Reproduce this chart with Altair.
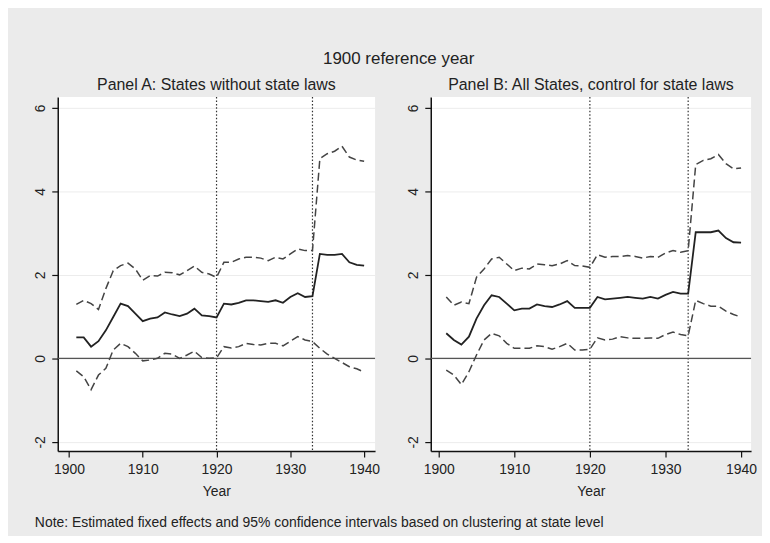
import altair as alt
import pandas as pd

years = [1901, 1902, 1903, 1904, 1905, 1906, 1907, 1908, 1909, 1910,
         1911, 1912, 1913, 1914, 1915, 1916, 1917, 1918, 1919, 1920,
         1921, 1922, 1923, 1924, 1925, 1926, 1927, 1928, 1929, 1930,
         1931, 1932, 1933, 1934, 1935, 1936, 1937, 1938, 1939, 1940]

# Panel A: States without state laws
a_est = [0.50, 0.50, 0.28, 0.41, 0.67, 0.99, 1.31, 1.25, 1.07, 0.89,
         0.95, 0.98, 1.10, 1.05, 1.01, 1.07, 1.19, 1.03, 1.01, 0.98,
         1.31, 1.29, 1.33, 1.39, 1.39, 1.37, 1.35, 1.39, 1.33, 1.47,
         1.56, 1.47, 1.49, 2.50, 2.48, 2.48, 2.50, 2.30, 2.24, 2.22]
a_hi = [1.29, 1.39, 1.31, 1.17, 1.67, 2.10, 2.22, 2.28, 2.14, 1.87,
        1.98, 1.97, 2.06, 2.05, 2.00, 2.10, 2.21, 2.06, 2.02, 1.94,
        2.30, 2.30, 2.38, 2.42, 2.42, 2.40, 2.34, 2.42, 2.38, 2.50,
        2.62, 2.58, 2.58, 4.78, 4.90, 4.96, 5.08, 4.82, 4.75, 4.72]
a_lo = [-0.30, -0.44, -0.75, -0.40, -0.24, 0.20, 0.36, 0.28, 0.12, -0.06,
        -0.04, 0.00, 0.12, 0.10, 0.00, 0.08, 0.17, 0.02, 0.00, 0.01,
        0.28, 0.25, 0.28, 0.36, 0.33, 0.32, 0.36, 0.36, 0.30, 0.41,
        0.52, 0.44, 0.40, 0.24, 0.10, 0.00, -0.10, -0.20, -0.25, -0.33]

# Panel B: All States, control for state laws
b_est = [0.60, 0.44, 0.33, 0.52, 0.95, 1.27, 1.51, 1.47, 1.31, 1.15,
         1.19, 1.19, 1.29, 1.25, 1.23, 1.29, 1.37, 1.21, 1.21, 1.21,
         1.47, 1.41, 1.43, 1.45, 1.47, 1.45, 1.43, 1.47, 1.43, 1.52,
         1.59, 1.55, 1.55, 3.02, 3.02, 3.02, 3.06, 2.88, 2.78, 2.77]
b_hi = [1.47, 1.27, 1.35, 1.31, 1.94, 2.14, 2.38, 2.42, 2.26, 2.10,
        2.16, 2.14, 2.26, 2.24, 2.22, 2.26, 2.34, 2.22, 2.21, 2.18,
        2.48, 2.42, 2.44, 2.44, 2.46, 2.44, 2.40, 2.44, 2.42, 2.52,
        2.58, 2.54, 2.58, 4.64, 4.74, 4.78, 4.88, 4.66, 4.54, 4.56]
b_lo = [-0.28, -0.40, -0.63, -0.32, 0.08, 0.44, 0.60, 0.54, 0.36, 0.24,
        0.24, 0.24, 0.30, 0.28, 0.22, 0.28, 0.36, 0.20, 0.20, 0.22,
        0.49, 0.44, 0.46, 0.52, 0.49, 0.48, 0.48, 0.49, 0.48, 0.57,
        0.63, 0.57, 0.54, 1.39, 1.31, 1.25, 1.25, 1.13, 1.05, 0.99]

event_years = [1920, 1933]
zero_line = [0]
x_ticks = [1900, 1910, 1920, 1930, 1940]
y_ticks = [-2, 0, 2, 4, 6]

FONT = "Liberation Sans"


def panel(title, est, hi, lo, xdom, w):
    df = pd.DataFrame({"year": years, "est": est, "hi": hi, "lo": lo})
    xs = alt.Scale(domain=xdom, nice=False, zero=False)
    ys = alt.Scale(domain=[-2.22, 6.26], nice=False, zero=False)
    xax = alt.Axis(values=x_ticks, format="d", title="Year", grid=False,
                   labelPadding=6, titlePadding=8)
    yax = alt.Axis(values=y_ticks, title=None, grid=True, labelAngle=270,
                   labelAlign="center", labelBaseline="bottom",
                   labelExpr="toString(datum.value)",
                   labelPadding=4, minExtent=45, maxExtent=45)
    base = alt.Chart(df)
    lo_line = base.mark_line(color="#444444", strokeWidth=1.5, strokeDash=[8, 4]).encode(
        x=alt.X("year:Q", scale=xs, axis=xax),
        y=alt.Y("lo:Q", scale=ys, axis=yax))
    hi_line = base.mark_line(color="#444444", strokeWidth=1.5, strokeDash=[8, 4]).encode(
        x=alt.X("year:Q", scale=xs, axis=xax),
        y=alt.Y("hi:Q", scale=ys, axis=yax))
    est_line = base.mark_line(color="#222222", strokeWidth=1.8).encode(
        x=alt.X("year:Q", scale=xs, axis=xax),
        y=alt.Y("est:Q", scale=ys, axis=yax))
    ev = alt.Chart(pd.DataFrame({"year": event_years})).mark_rule(
        color="#333333", strokeWidth=1.2, strokeDash=[1.5, 2]).encode(
        x=alt.X("year:Q", scale=xs, axis=xax))
    zr = alt.Chart(pd.DataFrame({"v": zero_line})).mark_rule(
        color="#555555", strokeWidth=1.3).encode(
        y=alt.Y("v:Q", scale=ys, axis=yax))
    return alt.layer(ev, zr, lo_line, hi_line, est_line).properties(
        width=w, height=356,
        title=alt.TitleParams(title, fontSize=16, font=FONT, fontWeight="normal",
                              color="#222222", offset=3))


pA = panel("Panel A: States without state laws", a_est, a_hi, a_lo, [1898.48, 1941.48], 319)
pB = panel("Panel B: All States, control for state laws", b_est, b_hi, b_lo, [1898.95, 1941.32], 322)

inner = alt.hconcat(pA, pB, spacing=6).properties(
    title=alt.TitleParams("1900 reference year", fontSize=17, font=FONT,
                          fontWeight="normal", color="#222222", offset=10,
                          anchor="middle", dx=14))

chart = alt.vconcat(inner).properties(
    title=alt.TitleParams("Note: Estimated fixed effects and 95% confidence intervals based on clustering at state level",
                          orient="bottom", anchor="start", fontSize=14, font=FONT,
                          fontWeight="normal", color="#222222", offset=17, dx=22),
    padding={"left": 5, "top": 40, "right": 5, "bottom": 5},
    background="#ebebeb",
).configure_view(
    fill="white", strokeWidth=0
).configure_axis(
    domainColor="#111111", domainWidth=1.5, tickColor="#111111", tickSize=6,
    tickWidth=1.2, labelFont=FONT, labelFontSize=14, labelColor="#222222",
    titleFont=FONT, titleFontSize=14, titleFontWeight="normal", titleColor="#222222",
    gridColor="#ececec", gridWidth=1
)

chart.save("out.html", embed_options={"renderer": "svg", "actions": False})
